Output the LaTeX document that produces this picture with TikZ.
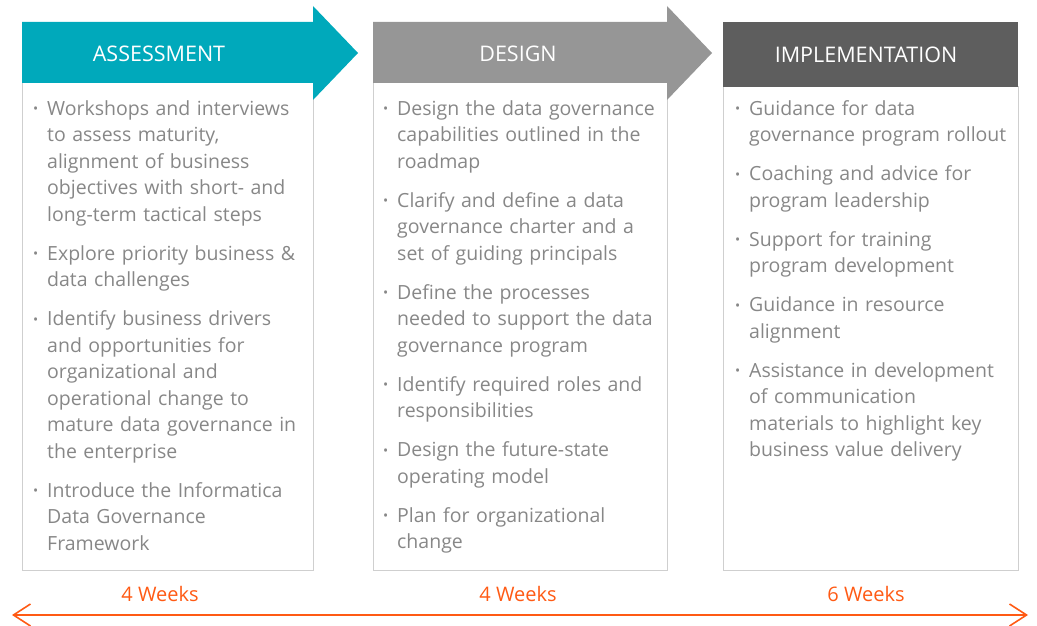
\documentclass[tikz,border=0pt]{standalone}
\usepackage{fontspec}
\setmainfont{Open Sans}
\usetikzlibrary{arrows.meta}
\definecolor{assesscol}{HTML}{00A9BB}
\definecolor{designcol}{HTML}{969696}
\definecolor{implcol}{HTML}{5E5E5E}
\definecolor{boxline}{HTML}{CFCFCF}
\definecolor{bodytext}{HTML}{878787}
\definecolor{weekcol}{HTML}{FF5A14}
\tikzset{
  bodybox/.style={draw=boxline,line width=1pt},
  headtext/.style={text=white,font=\fontsize{21.5}{25}\selectfont},
  points/.style={anchor=base west,inner sep=0pt,text width=300pt,align=left,
    text=bodytext,font=\fontsize{19.5}{26.5}\selectfont},
  weeks/.style={text=weekcol,font=\fontsize{20}{24}\selectfont}
}
\newcommand{\bitem}[1]{\par\noindent\hangindent=14pt\hangafter=1%
  \makebox[14pt][l]{\raisebox{0.08em}{\scalebox{0.7}{\textbullet}}}#1\par\vspace{12.5pt}}

\begin{document}
\begin{tikzpicture}[x=1pt,y=1pt]
  \useasboundingbox (0,0) rectangle (1037,-626);
  \draw[bodybox] (22,-83) rectangle (313,-570);
  \draw[bodybox] (373,-83) rectangle (667,-570);
  \draw[bodybox] (723,-87) rectangle (1018,-570);
  \fill[assesscol] (22,-22) -- (313,-22) -- (313,-6) -- (358,-53) -- (313,-100) -- (313,-83) -- (22,-83) -- cycle;
  \fill[designcol] (373,-22) -- (667,-22) -- (667,-6) -- (712,-53) -- (667,-100) -- (667,-83) -- (373,-83) -- cycle;
  \fill[implcol] (723,-22) rectangle (1018,-87);
  \node[headtext] (assess) at (159,-54) {ASSESSMENT};
  \node[headtext] (design) at (518,-54) {DESIGN};
  \node[headtext] (impl) at (866,-55) {IMPLEMENTATION};
  \node[points] (assesspts) at (33,-89) {%
    \bitem{Workshops and interviews\newline to assess maturity,\newline alignment of business\newline objectives with short- and\newline long-term tactical steps}
    \bitem{Explore priority business \&\newline data challenges}
    \bitem{Identify business drivers\newline and opportunities for\newline organizational and\newline operational change to\newline mature data governance in\newline the enterprise}
    \bitem{Introduce the Informatica\newline Data Governance\newline Framework}};
  \node[points] (designpts) at (383,-89) {%
    \bitem{Design the data governance\newline capabilities outlined in the\newline roadmap}
    \bitem{Clarify and define a data\newline governance charter and a\newline set of guiding principals}
    \bitem{Define the processes\newline needed to support the data\newline governance program}
    \bitem{Identify required roles and\newline responsibilities}
    \bitem{Design the future-state\newline operating model}
    \bitem{Plan for organizational\newline change}};
  \node[points] (implpts) at (735,-89) {%
    \bitem{Guidance for data\newline governance program rollout}
    \bitem{Coaching and advice for\newline program leadership}
    \bitem{Support for training\newline program development}
    \bitem{Guidance in resource\newline alignment}
    \bitem{Assistance in development\newline of communication\newline materials to highlight key\newline business value delivery}};
  \node[weeks] (wk1) at (160,-594) {4 Weeks};
  \node[weeks] (wk2) at (518,-594) {4 Weeks};
  \node[weeks] (wk3) at (866,-594) {6 Weeks};
  \coordinate (start) at (12,-615);
  \coordinate (end) at (1028,-615);
  \draw[weekcol,line width=1.6pt,{Straight Barb[length=17pt,width=22pt]}-{Straight Barb[length=17pt,width=22pt]}] (start) -- (end);
\end{tikzpicture}
\end{document}
